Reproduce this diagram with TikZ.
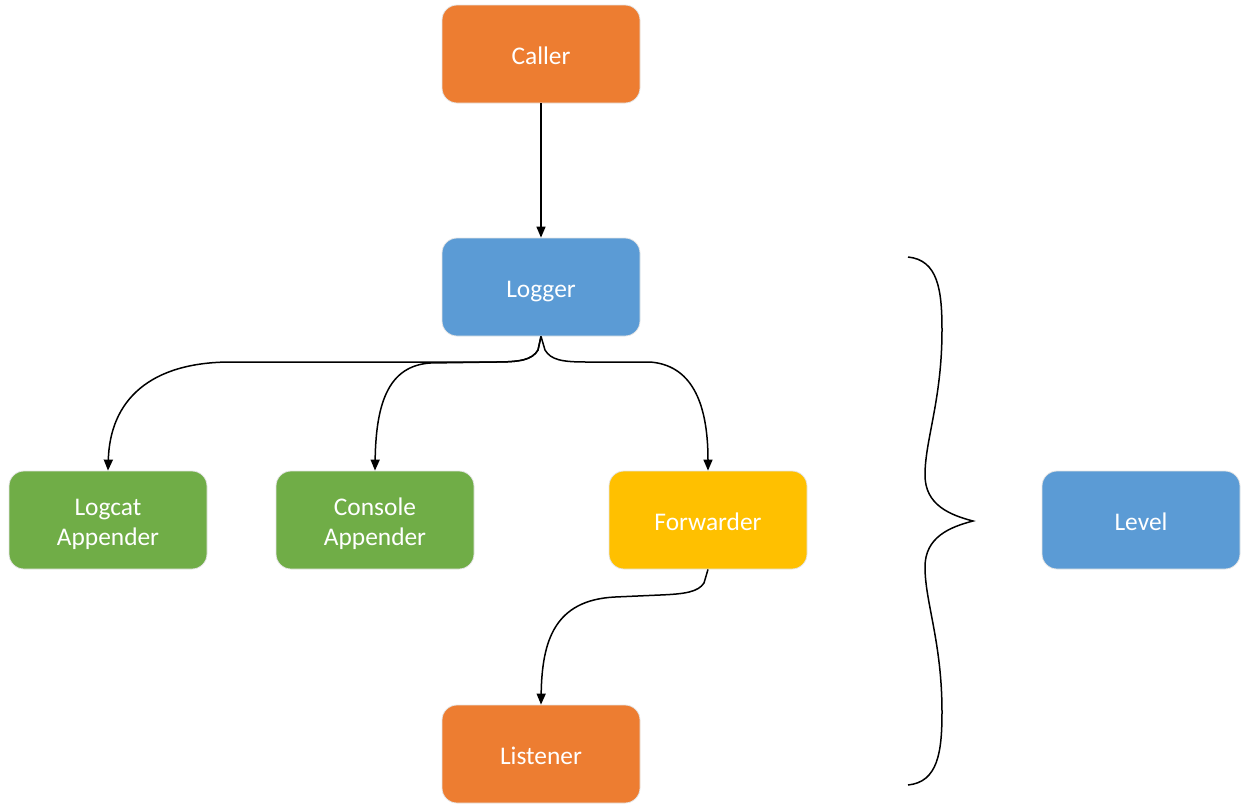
\documentclass[tikz,border=0pt]{standalone}
\usepackage{fontspec}
\setmainfont{Carlito}
\usepackage{xcolor}
\usetikzlibrary{arrows.meta}

\definecolor{orangeBox}{RGB}{237,125,49}
\definecolor{blueBox}{RGB}{91,155,213}
\definecolor{greenBox}{RGB}{112,173,71}
\definecolor{yellowBox}{RGB}{255,192,0}

\tikzset{
  box/.style={rounded corners=7.5pt, minimum width=99pt, minimum height=49pt,
    inner sep=0pt, align=center, text=white, draw=black!10, line width=0.4pt,
    text height=11pt, text depth=1pt,
    font=\fontsize{12.7}{15}\selectfont},
  twoline/.style={text height=25pt, text depth=0pt},
  link/.style={line width=0.75pt, -{Triangle[length=5.5pt,width=4.5pt]}}
}

\begin{document}
\begin{tikzpicture}[x=0.5pt,y=0.5pt,yscale=-1,xscale=1]
\useasboundingbox (0,0) rectangle (1244,805);

% Text Node
\node [box, fill=orangeBox] (caller) at (541,54) {Caller};
% Text Node
\node [box, fill=blueBox] (logger) at (541,287) {Logger};
% Text Node
\node [box, twoline, fill=greenBox] (logcat) at (108,520) {Logcat\\Appender};
% Text Node
\node [box, twoline, fill=greenBox] (console) at (375,520) {Console\\Appender};
% Text Node
\node [box, fill=yellowBox] (forwarder) at (708,520) {Forwarder};
% Text Node
\node [box, fill=orangeBox] (listener) at (541,754) {Listener};
% Text Node
\node [box, fill=blueBox] (level) at (1141,520) {Level};

%Straight Lines
\draw [link] (caller) -- (logger);
%Curve Lines
\draw [link] (logger.south) -- (538,350) .. controls (532,360) and (520,362) .. (495,362) -- (231,362) .. controls (150,362) and (110,400) .. (logcat.north);
\draw [link] (logger.south) -- (538,350) .. controls (532,360) and (520,362) .. (495,362) -- (430,363) .. controls (390,366) and (376,400) .. (console.north);
\draw [link] (logger.south) -- (545,350) .. controls (551,360) and (562,362) .. (587,362) -- (650,362) .. controls (690,365) and (708,400) .. (forwarder.north);
\draw [link] (forwarder.south) -- (704,583) .. controls (698,592) and (685,594) .. (660,595) -- (615,597) .. controls (555,600) and (542,640) .. (listener.north);

%Shape: Brace
\draw [line width=0.75pt] (908,257) .. controls (938,260) and (942,290) .. (942,330)
  .. controls (942,400) and (925,440) .. (925,475)
  .. controls (925,505) and (950,515) .. (973,521)
  .. controls (950,527) and (925,537) .. (925,567)
  .. controls (925,602) and (942,642) .. (942,712)
  .. controls (942,752) and (938,782) .. (908,785);
\end{tikzpicture}
\end{document}
